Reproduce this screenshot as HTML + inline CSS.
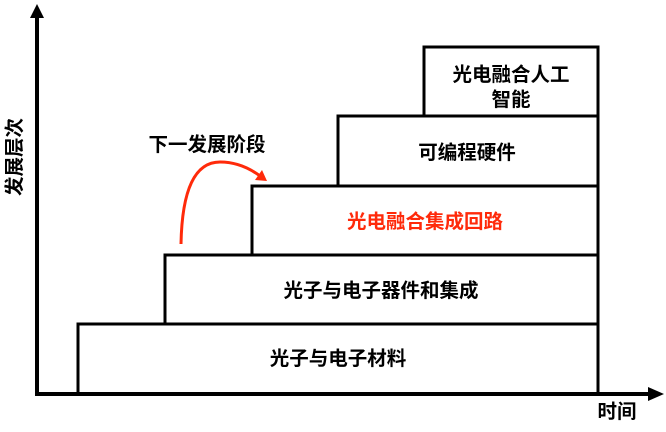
<!DOCTYPE html>
<html><head><meta charset="utf-8"><style>
body{margin:0;background:#fff;}
svg text{font-family:"Liberation Sans","Noto Sans CJK SC",sans-serif;font-size:19.5px;font-weight:bold;text-anchor:middle;}
</style></head><body>
<svg width="666" height="427" viewBox="0 0 666 427" xmlns="http://www.w3.org/2000/svg">
<g fill="none" stroke="#000" stroke-width="3">
<rect x="78" y="324" width="520" height="70"/>
<rect x="165" y="255" width="433" height="69"/>
<rect x="252" y="186" width="346" height="69"/>
<rect x="338" y="116" width="260" height="70"/>
<rect x="424" y="47" width="174" height="69"/>
<line x1="37" y1="396" x2="37" y2="16" stroke-width="4"/>
<line x1="36" y1="394" x2="652" y2="394" stroke-width="4"/>
</g>
<polygon points="37,4 30,18 44,18" fill="#000"/>
<polygon points="664,394 648,387 648,401" fill="#000"/>
<path d="M181,244 C182,190 195,162 220,162 C238,162 252,170 260,176" fill="none" stroke="#ff2a0a" stroke-width="3"/>
<polygon points="267,181 255,180 262,170" fill="#ff2a0a"/>
<text x="338" y="365">光子与电子材料</text>
<text x="381" y="297">光子与电子器件和集成</text>
<text x="425" y="228" fill="#ff2a0a">光电融合集成回路</text>
<text x="467" y="159">可编程硬件</text>
<text x="511" y="81">光电融合人工</text>
<text x="511" y="106">智能</text>
<text x="207" y="151">下一发展阶段</text>
<text x="617" y="418">时间</text>
<text x="0" y="0" transform="translate(21,157) rotate(-90)">发展层次</text>
</svg>
</body></html>
